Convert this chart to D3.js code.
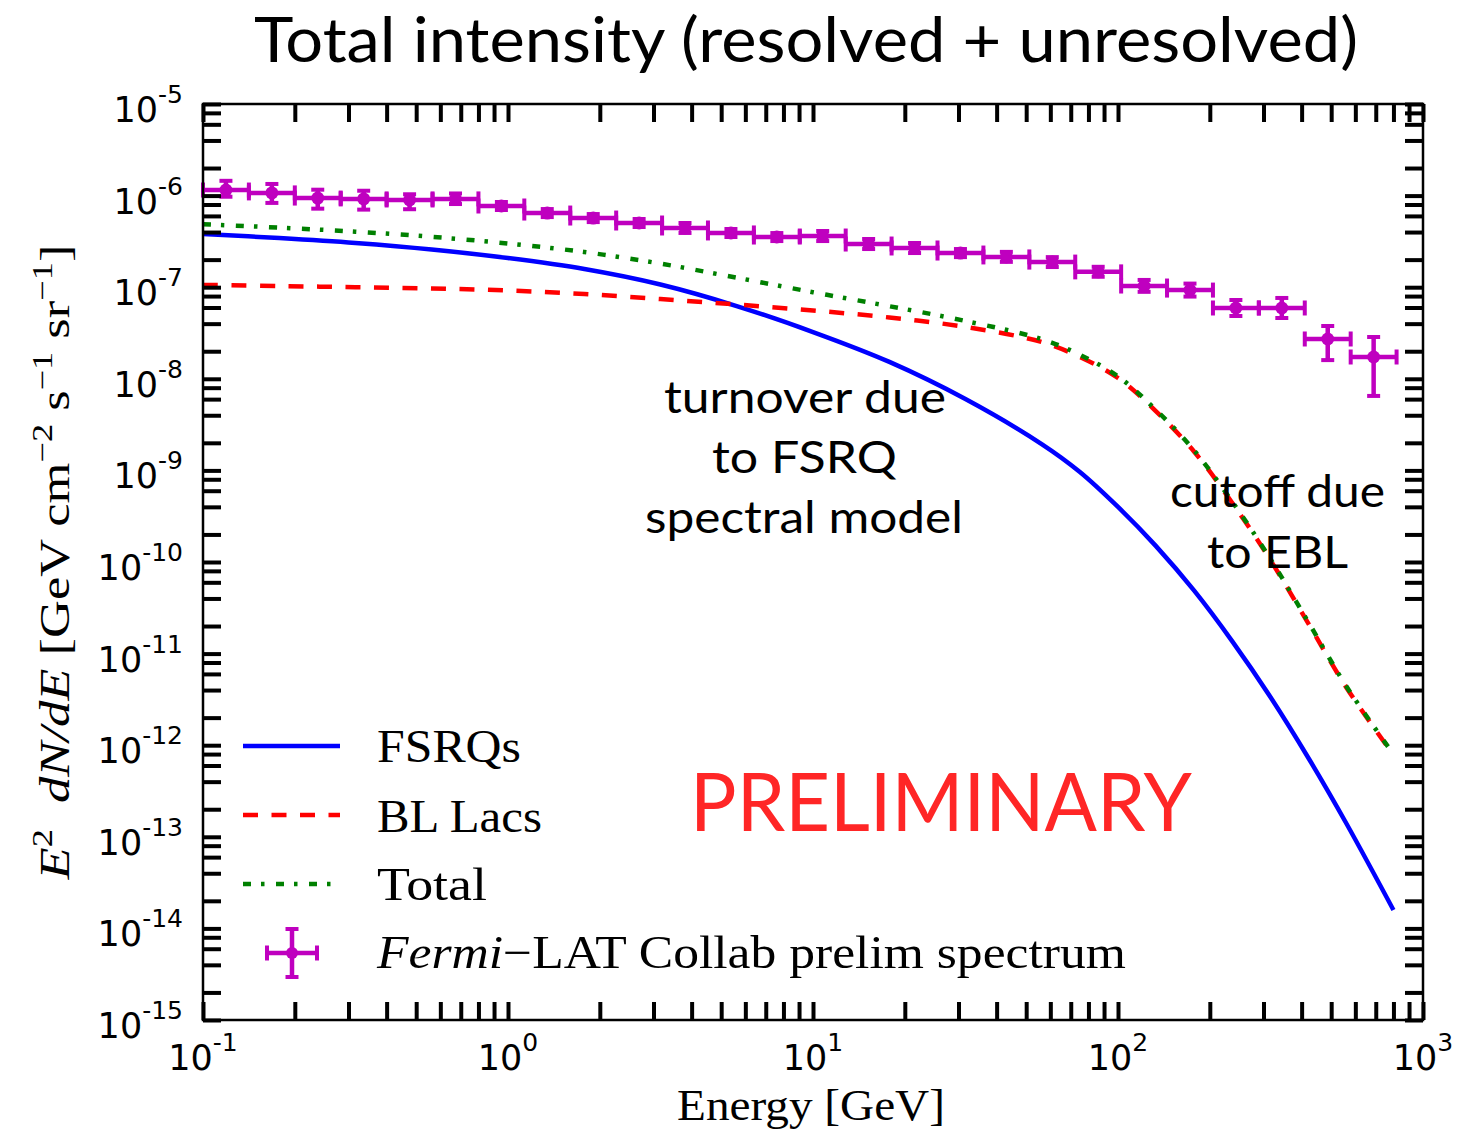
<!DOCTYPE html>
<html>
<head>
<meta charset="utf-8">
<script src="https://cdn.jsdelivr.net/npm/d3@7"></script>
<style>
  html, body { margin: 0; padding: 0; background: #ffffff; }
  svg { display: block; }
</style>
</head>
<body>
<svg id="chart" width="1465" height="1132"></svg>
<script>
// ---- Model curves: E^2 dN/dE [GeV cm^-2 s^-1 sr^-1] vs energy [GeV] ----
const energy = [0.1, 0.178, 0.316, 0.562, 1, 1.78, 3.16, 5.62, 10, 17.8, 31.6,
                56.2, 75, 100, 133, 178, 237, 316, 422, 562, 800];
const fsrq   = [3.81e-7, 3.44e-7, 3.04e-7, 2.58e-7, 2.08e-7, 1.58e-7, 1.07e-7, 6.23e-8,
                3.24e-8, 1.53e-8, 6.02e-9, 1.94e-9, 9.61e-10, 3.99e-10, 1.50e-10, 4.83e-11,
                1.36e-11, 3.36e-12, 7.16e-13, 1.38e-13, 1.59e-14];
const bllac  = [1.06e-7, 1.03e-7, 1.00e-7, 9.68e-8, 9.20e-8, 8.43e-8, 7.43e-8, 6.47e-8,
                5.57e-8, 4.67e-8, 3.68e-8, 2.52e-8, 1.73e-8, 1.02e-8, 4.45e-9, 1.59e-9,
                4.41e-10, 1.05e-10, 2.10e-11, 4.21e-12, 7.82e-13];
const total  = [4.87e-7, 4.47e-7, 4.04e-7, 3.55e-7, 3.00e-7, 2.42e-7, 1.81e-7, 1.27e-7,
                8.81e-8, 6.20e-8, 4.28e-8, 2.71e-8, 1.83e-8, 1.06e-8, 4.60e-9, 1.64e-9,
                4.55e-10, 1.08e-10, 2.17e-11, 4.35e-12, 7.98e-13];

// ---- Measured spectrum: energy bins [GeV] and intensities ----
const binEdges = [0.1, 0.1414, 0.2, 0.2828, 0.4, 0.5657, 0.8, 1.131, 1.6, 2.263, 3.2,
                  4.525, 6.4, 9.051, 12.8, 18.10, 25.6, 36.20, 51.2, 72.41, 102.4,
                  144.8, 204.8, 289.6, 409.6, 579.3, 819.2];
const binCenters = [0.1189, 0.1682, 0.2378, 0.3364, 0.4757, 0.6727, 0.9514, 1.345, 1.903,
                    2.691, 3.805, 5.382, 7.611, 10.76, 15.22, 21.53, 30.44, 43.05, 60.89,
                    86.11, 121.8, 172.2, 243.5, 344.4, 487.1, 688.9];
const flux = [1.15e-6, 1.07e-6, 9.4e-7, 9.2e-7, 8.96e-7, 9.2e-7, 7.7e-7, 6.45e-7, 5.69e-7,
              5.02e-7, 4.43e-7, 3.91e-7, 3.53e-7, 3.62e-7, 2.96e-7, 2.68e-7, 2.36e-7,
              2.14e-7, 1.88e-7, 1.47e-7, 1.03e-7, 9.3e-8, 5.93e-8, 5.93e-8, 2.72e-8, 1.73e-8];
const fluxErrHi = [3.0e-7, 2.7e-7, 2.2e-7, 2.1e-7, 1.38e-7, 1.35e-7, 8.2e-8, 6.8e-8, 6.0e-8,
                   5.3e-8, 5.9e-8, 4.1e-8, 3.7e-8, 4.9e-8, 4.0e-8, 3.6e-8, 2.5e-8, 2.9e-8,
                   2.5e-8, 2.0e-8, 1.7e-8, 1.65e-8, 1.32e-8, 1.70e-8, 1.05e-8, 1.13e-8];
const fluxErrLo = [1.78e-7, 2.38e-7, 2.2e-7, 2.17e-7, 1.86e-7, 1.11e-7, 7.4e-8, 6.2e-8, 5.5e-8,
                   4.8e-8, 5.2e-8, 3.8e-8, 3.4e-8, 4.3e-8, 3.5e-8, 3.2e-8, 2.3e-8, 2.5e-8,
                   2.2e-8, 1.7e-8, 1.4e-8, 1.4e-8, 1.08e-8, 1.32e-8, 1.12e-8, 1.08e-8];

// ---- Axis ticks ----
const xTickExps = [-1, 0, 1, 2, 3];
const yTickExps = [-15, -14, -13, -12, -11, -10, -9, -8, -7, -6, -5];
const xMinorMults = [2, 3, 4, 5, 6, 7, 8, 9];
const yMinorMults = [2, 4, 6, 8];

// ---- Legend entries ----
const legendLabels = ["FSRQs", "BL Lacs", "Total"];

// ---------------------------------------------------------------------------
const C = { fsrq: "#0000ff", bllac: "#ff0000", total: "#008000", data: "#bf00bf", prelim: "#ff2626" };
const SERIF = "'Liberation Serif', 'DejaVu Serif', serif";
const SANS = "'DejaVu Sans', sans-serif";
const HUMAN = "Lato, 'Open Sans', sans-serif";

const svg = d3.select("#chart");
const box = { left: 203, right: 1423, top: 104, bottom: 1020 };

const x = d3.scaleLog().domain([0.1, 1000]).range([box.left, box.right]);
const y = d3.scaleLog().domain([1e-15, 1e-5]).range([box.bottom, box.top]);

// Text helper: places a text at (px,py) and stretches it to a given width
function fitText(parent, px, py, width, anchor, rotate) {
  const g = parent.append("g")
    .attr("transform", `translate(${px},${py})` + (rotate ? ` rotate(${rotate})` : ""));
  const t = g.append("text").attr("x", 0).attr("y", 0).attr("text-anchor", anchor);
  return {
    text: t,
    fit() {
      const w = t.node().getComputedTextLength();
      if (w > 0 && width) t.attr("transform", `scale(${width / w},1)`);
      return t;
    }
  };
}

// ---- Model curves ----
const curves = svg.append("g");
const line = (vals) => d3.line()
  .x((d, i) => x(energy[i]))
  .y((d) => y(d))
  .curve(d3.curveCatmullRom.alpha(0.5))(vals);

curves.append("path").attr("d", line(fsrq))
  .attr("fill", "none").attr("stroke", C.fsrq).attr("stroke-width", 4.5);
curves.append("path").attr("d", line(bllac))
  .attr("fill", "none").attr("stroke", C.bllac).attr("stroke-width", 4.5)
  .attr("stroke-dasharray", "15,13.5");
curves.append("path").attr("d", line(total))
  .attr("fill", "none").attr("stroke", C.total).attr("stroke-width", 4.5)
  .attr("stroke-dasharray", "8,10,3.5,11.5");

// ---- Measured points with error bars ----
const pts = svg.append("g").attr("stroke", C.data).attr("fill", C.data);
const capX = 7.5, capY = 6.5;
flux.forEach((v, i) => {
  const cx = x(binCenters[i]), cy = y(v);
  const xl = x(binEdges[i]), xr = x(binEdges[i + 1]);
  const yt = y(v + fluxErrHi[i]), yb = y(v - fluxErrLo[i]);
  pts.append("line").attr("x1", xl).attr("x2", xr).attr("y1", cy).attr("y2", cy).attr("stroke-width", 4.5);
  pts.append("line").attr("x1", cx).attr("x2", cx).attr("y1", yt).attr("y2", yb).attr("stroke-width", 4.5);
  [xl, xr].forEach(xx => pts.append("line").attr("x1", xx).attr("x2", xx)
    .attr("y1", cy - capX).attr("y2", cy + capX).attr("stroke-width", 4));
  [yt, yb].forEach(yy => pts.append("line").attr("x1", cx - capY).attr("x2", cx + capY)
    .attr("y1", yy).attr("y2", yy).attr("stroke-width", 4));
});
flux.forEach((v, i) => {
  pts.append("circle").attr("cx", x(binCenters[i])).attr("cy", y(v)).attr("r", 6.5).attr("stroke", "none");
});

// ---- Axes: inward ticks on all four sides ----
const xTickVals = [], yTickVals = [];
xTickExps.forEach(e => {
  xTickVals.push(Math.pow(10, e));
  if (e < 3) xMinorMults.forEach(m => xTickVals.push(m * Math.pow(10, e)));
});
yTickExps.forEach(e => {
  yTickVals.push(Math.pow(10, e));
  if (e < -5) yMinorMults.forEach(m => yTickVals.push(m * Math.pow(10, e)));
});

const TL = 18;
function styleAxis(g) {
  g.select(".domain").remove();
  g.selectAll(".tick line").attr("stroke", "#000").attr("stroke-width", 4);
  g.selectAll(".tick text").remove();
}
svg.append("g").attr("transform", `translate(0,${box.bottom})`)
  .call(d3.axisBottom(x).tickValues(xTickVals).tickSize(-TL).tickFormat("")).call(styleAxis);
svg.append("g").attr("transform", `translate(0,${box.top})`)
  .call(d3.axisTop(x).tickValues(xTickVals).tickSize(-TL).tickFormat("")).call(styleAxis);
svg.append("g").attr("transform", `translate(${box.left},0)`)
  .call(d3.axisLeft(y).tickValues(yTickVals).tickSize(-TL).tickFormat("")).call(styleAxis);
svg.append("g").attr("transform", `translate(${box.right},0)`)
  .call(d3.axisRight(y).tickValues(yTickVals).tickSize(-TL).tickFormat("")).call(styleAxis);

svg.append("rect").attr("x", box.left).attr("y", box.top)
  .attr("width", box.right - box.left).attr("height", box.bottom - box.top)
  .attr("fill", "none").attr("stroke", "#000").attr("stroke-width", 2.5);

// ---- Tick labels ----
const supText = (e) => (e < 0 ? "-" + (-e) : String(e));
xTickExps.forEach(e => {
  const t = svg.append("text").attr("x", x(Math.pow(10, e))).attr("y", 1070)
    .attr("text-anchor", "middle").style("font-family", SANS).style("font-size", "35px").attr("fill", "#000");
  t.append("tspan").text("10");
  t.append("tspan").attr("dy", -19).style("font-size", "25px").text(supText(e));
});
yTickExps.forEach(e => {
  const t = svg.append("text").attr("x", 183).attr("y", y(Math.pow(10, e)) + 18)
    .attr("text-anchor", "end").style("font-family", SANS).style("font-size", "35px").attr("fill", "#000");
  t.append("tspan").text("10");
  t.append("tspan").attr("dy", -19).style("font-size", "25px").text(supText(e));
});

// ---- Axis titles ----
{
  const xl = fitText(svg, 811, 1120, 268, "middle");
  xl.text.style("font-family", SERIF).style("font-size", "44px").text("Energy [GeV]");
  xl.fit();

  const yl = fitText(svg, 69, 562, 635, "middle", -90);
  const t = yl.text.style("font-family", SERIF).style("font-size", "42px");
  const sup = (s) => { t.append("tspan").attr("dy", -17).style("font-size", "29px").text(s); };
  const back = (s) => { t.append("tspan").attr("dy", 17).text(s); };
  t.append("tspan").style("font-style", "italic").text("E");
  sup("2");
  back("\u2002");
  t.append("tspan").style("font-style", "italic").text("dN/dE");
  t.append("tspan").text(" [GeV cm");
  sup("\u22122");
  back(" s");
  sup("\u22121");
  back(" sr");
  sup("\u22121");
  back("]");
  yl.fit();
}

// ---- Title ----
{
  const tt = fitText(svg, 806, 62, 1104, "middle");
  tt.text.style("font-family", HUMAN).style("font-size", "62px").attr("fill", "#000")
    .text("Total intensity (resolved + unresolved)");
  tt.fit();
}

// ---- Annotations ----
[
  ["turnover due", 805, 413, 282],
  ["to FSRQ", 804.5, 473, 185],
  ["spectral model", 804, 533, 318],
  ["cutoff due", 1277.5, 507, 215],
  ["to EBL", 1277.5, 568, 141]
].forEach(([s, px, py, w]) => {
  const a = fitText(svg, px, py, w, "middle");
  a.text.style("font-family", HUMAN).style("font-size", "44px").attr("fill", "#000").text(s);
  a.fit();
});
{
  const p = fitText(svg, 941, 831, 502, "middle");
  p.text.style("font-family", HUMAN).style("font-size", "82px").attr("fill", C.prelim).text("PRELIMINARY");
  p.fit();
}

// ---- Legend ----
{
  const lg = svg.append("g");
  const lx0 = 243, lx1 = 340, tx = 377;
  const rows = [
    { yLine: 746, base: 762, w: 144, color: C.fsrq, dash: null },
    { yLine: 815, base: 832, w: 165, color: C.bllac, dash: "15,13.5" },
    { yLine: 884, base: 900, w: 110, color: C.total, dash: "8,10,3.5,11.5" }
  ];
  rows.forEach((r, i) => {
    const ln = lg.append("line").attr("x1", lx0).attr("x2", lx1).attr("y1", r.yLine).attr("y2", r.yLine)
      .attr("stroke", r.color).attr("stroke-width", 4.5);
    if (r.dash) ln.attr("stroke-dasharray", r.dash);
    const lt = fitText(lg, tx, r.base, r.w, "start");
    lt.text.style("font-family", SERIF).style("font-size", "46px").attr("fill", "#000").text(legendLabels[i]);
    lt.fit();
  });
  // measured-spectrum symbol
  const mx = 292, my = 953;
  const sg = lg.append("g").attr("stroke", C.data).attr("fill", C.data);
  sg.append("line").attr("x1", mx - 25).attr("x2", mx + 25).attr("y1", my).attr("y2", my).attr("stroke-width", 4.5);
  sg.append("line").attr("x1", mx).attr("x2", mx).attr("y1", my - 24).attr("y2", my + 24).attr("stroke-width", 4.5);
  [mx - 25, mx + 25].forEach(xx => sg.append("line").attr("x1", xx).attr("x2", xx)
    .attr("y1", my - capX).attr("y2", my + capX).attr("stroke-width", 4));
  [my - 24, my + 24].forEach(yy => sg.append("line").attr("x1", mx - capY).attr("x2", mx + capY)
    .attr("y1", yy).attr("y2", yy).attr("stroke-width", 4));
  sg.append("circle").attr("cx", mx).attr("cy", my).attr("r", 6).attr("stroke", "none");

  const ft = fitText(lg, tx, 968, 749, "start");
  const t = ft.text.style("font-family", SERIF).style("font-size", "46px").attr("fill", "#000");
  t.append("tspan").style("font-style", "italic").text("Fermi");
  t.append("tspan").text("\u2212LAT Collab prelim spectrum");
  ft.fit();
}
</script>
</body>
</html>
